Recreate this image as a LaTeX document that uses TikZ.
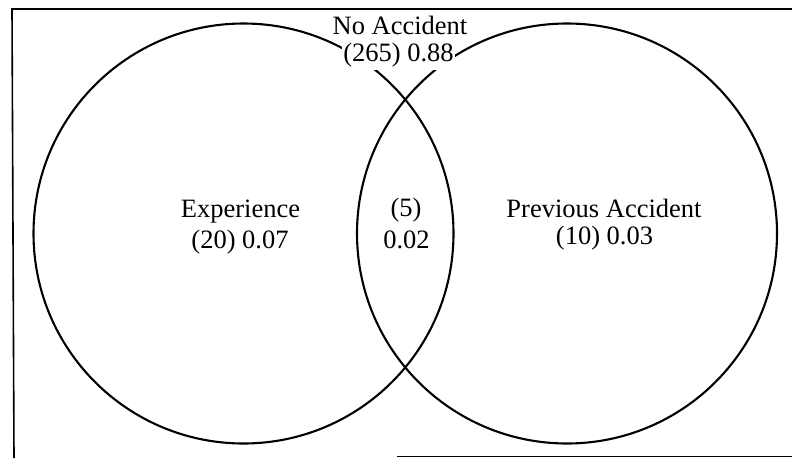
\documentclass[tikz,border=0pt]{standalone}
\usepackage{fontspec}
\setmainfont{Liberation Serif}
\begin{document}
\begin{tikzpicture}[x=1pt,y=-1pt,
  setc/.style={circle,draw,line width=2.1pt,minimum size=420pt,inner sep=0pt},
  lbl/.style={font=\fontsize{26.5}{30}\selectfont,inner sep=0pt,anchor=center},
  cutlbl/.style={lbl,fill=white,inner xsep=1pt,inner ysep=3pt},
  frame/.style={line width=1.6pt}]
\useasboundingbox (0,0) rectangle (792,458);
% frame
\coordinate (ftr) at (792,9);
\coordinate (ftl) at (12,9);
\coordinate (fbl) at (14,458);
\coordinate (fbs) at (397,456.5);
\coordinate (fbe) at (792,456.5);
\draw[frame] (ftr) -- (ftl) -- (fbl);
\draw[line width=1.2pt] (fbs) -- (fbe);
% circles
\node[setc] (exp) at (243.5,233.5) {};
\node[setc] (prev) at (567,233.5) {};
% labels
\node[lbl] (noacc) at (400,25) {No Accident};
\node[cutlbl] (noaccv) at (398.5,55) {(265) 0.88};
\node[lbl] (expl) at (240.5,212) {Experience};
\node[lbl] (expv) at (240,242) {(20) 0.07};
\node[lbl] (both) at (406,210) {(5)};
\node[lbl] (bothv) at (406.5,240) {0.02};
\node[lbl] (prevl) at (604,208) {Previous Accident};
\node[lbl] (prevv) at (604.5,238) {(10) 0.03};
\end{tikzpicture}
\end{document}
